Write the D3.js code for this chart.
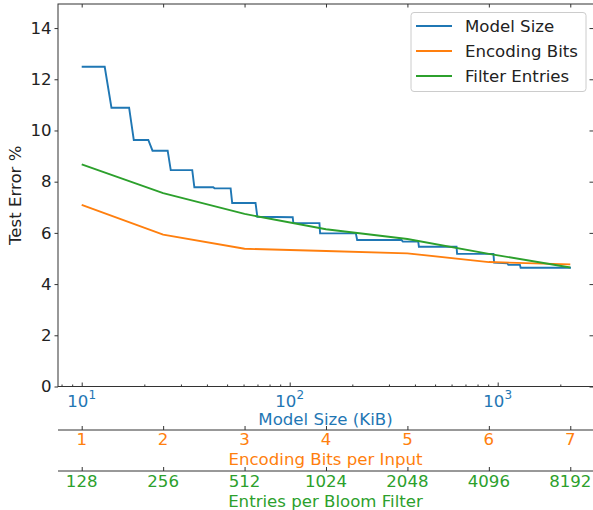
<!DOCTYPE html>
<html>
<head>
<meta charset="utf-8">
<script src="https://cdn.jsdelivr.net/npm/d3@7"></script>
<style>
  body { margin: 0; background: #fff; }
  svg { display: block; font-family: "DejaVu Sans", sans-serif; }
</style>
</head>
<body>
<svg id="chart" width="593" height="510"></svg>
<script>
// ---- data ----
const modelSize = [10, 12.9, 13.9, 16.9, 17.8, 20.9, 21.9, 25.9, 26.8, 34.0, 34.8, 42.9, 43.5, 52.0, 52.9, 68.5, 69.9, 103.4, 104.1, 139, 140, 208, 211, 345, 350, 415, 418, 634, 638, 954, 961, 1113, 1125, 1279, 1289, 2250];
const modelErr  = [12.49, 12.49, 10.89, 10.89, 9.63, 9.63, 9.21, 9.21, 8.45, 8.45, 7.78, 7.78, 7.74, 7.74, 7.17, 7.17, 6.63, 6.61, 6.38, 6.38, 5.98, 5.98, 5.72, 5.72, 5.66, 5.66, 5.46, 5.46, 5.18, 5.18, 4.84, 4.81, 4.75, 4.75, 4.64, 4.64];
const bits       = [1, 2, 3, 4, 5, 6, 7];
const bitsErr    = [7.09, 5.93, 5.38, 5.29, 5.20, 4.86, 4.77];
const entries    = [128, 256, 512, 1024, 2048, 4096, 8192];
const entriesErr = [8.68, 7.55, 6.74, 6.14, 5.76, 5.18, 4.65];
const yTicks = [0, 2, 4, 6, 8, 10, 12, 14];
const legendLabels = ["Model Size", "Encoding Bits", "Filter Entries"];
const colors = ["#1f77b4", "#ff7f0e", "#2ca02c"];

// ---- layout ----
const L = 58, R = 593, T = 4, B = 386.5;
const svg = d3.select("#chart");
const FS = 16.6;

const xModel = d3.scaleLog().domain([7.692, 2872]).range([L, R]);
const xBits = d3.scaleLinear().domain([0.709, 7.279]).range([L, R]);
const xEnt = d3.scaleLog().base(2).domain([104.6, 9940]).range([L, R]);
const y = d3.scaleLinear().domain([0, 14.94]).range([B, T]);

const g = svg.append("g");

// lines
const lineModel = d3.line().x((d, i) => xModel(modelSize[i])).y(d => y(d));
const lineBits = d3.line().x((d, i) => xBits(bits[i])).y(d => y(d));
const lineEnt = d3.line().x((d, i) => xEnt(entries[i])).y(d => y(d));

g.append("path").attr("d", lineModel(modelErr)).attr("fill", "none").attr("stroke", colors[0]).attr("stroke-width", 1.9);
g.append("path").attr("d", lineBits(bitsErr)).attr("fill", "none").attr("stroke", colors[1]).attr("stroke-width", 1.9);
g.append("path").attr("d", lineEnt(entriesErr)).attr("fill", "none").attr("stroke", colors[2]).attr("stroke-width", 1.9);

const spine = "#333";
// left axis
const yAxis = g.append("g").attr("transform", `translate(${L},0)`)
  .call(d3.axisLeft(y).tickValues(yTicks).tickSize(3.5).tickPadding(3).tickFormat(d3.format("d")));
yAxis.select(".domain").remove();
yAxis.selectAll("text").attr("font-size", FS).attr("fill", "#222").attr("font-family", "DejaVu Sans");
yAxis.selectAll("line").attr("stroke", spine);
// right ticks inward
const yR = g.append("g").attr("transform", `translate(${R},0)`)
  .call(d3.axisLeft(y).tickValues(yTicks).tickSize(3.5).tickFormat(""));
yR.select(".domain").remove();
yR.selectAll("line").attr("stroke", spine);

// top ticks inward at bits positions
const topAx = g.append("g").attr("transform", `translate(0,${T})`)
  .call(d3.axisBottom(xBits).tickValues(bits).tickSize(3.5).tickFormat(""));
topAx.select(".domain").remove();
topAx.selectAll("line").attr("stroke", spine);

// bottom axis (model size) ticks inward
const major = [10, 100, 1000];
const minor = [];
[1, 10, 100, 1000].forEach(dec => { for (let k = 2; k <= 9; k++) { const v = dec * k; if (v > 7.692 && v < 2872) minor.push(v); } });
const botMinor = g.append("g").attr("transform", `translate(0,${B})`)
  .call(d3.axisTop(xModel).tickValues(minor).tickSize(2).tickFormat(""));
botMinor.select(".domain").remove();
botMinor.selectAll("line").attr("stroke", spine);
const botMajor = g.append("g").attr("transform", `translate(0,${B})`)
  .call(d3.axisTop(xModel).tickValues(major).tickSize(4).tickFormat(""));
botMajor.select(".domain").remove();
botMajor.selectAll("line").attr("stroke", spine);
// major labels
const exps = major.map(v => Math.round(Math.log10(v)));
const lbl = g.append("g");
major.forEach((v, i) => {
  const t = lbl.append("text").attr("x", xModel(v)).attr("y", 406.8)
    .attr("text-anchor", "middle").attr("font-size", FS).attr("fill", colors[0]);
  t.append("tspan").text("10");
  t.append("tspan").attr("font-size", 12).attr("dy", -7.5).text(exps[i]);
});
g.append("text").attr("x", (L + R) / 2).attr("y", 425.2).attr("text-anchor", "middle")
  .attr("font-size", FS).attr("fill", colors[0]).text("Model Size (KiB)");

// spines
g.append("rect").attr("x", L).attr("y", T).attr("width", R - L + 5).attr("height", B - T)
  .attr("fill", "none").attr("stroke", spine).attr("stroke-width", 1);

// secondary axis: bits
const bitsAx = g.append("g").attr("transform", `translate(0,430)`)
  .call(d3.axisTop(xBits).tickValues(bits).tickSize(4).tickFormat(""));
bitsAx.select(".domain").remove();
bitsAx.selectAll("line").attr("stroke", spine);
g.append("line").attr("x1", L).attr("x2", R).attr("y1", 430).attr("y2", 430).attr("stroke", spine);
bits.forEach(b => {
  g.append("text").attr("x", xBits(b)).attr("y", 445.2).attr("text-anchor", "middle")
    .attr("font-size", FS).attr("fill", colors[1]).text(b);
});
g.append("text").attr("x", (L + R) / 2).attr("y", 465).attr("text-anchor", "middle")
  .attr("font-size", FS).attr("fill", colors[1]).text("Encoding Bits per Input");

// secondary axis: entries
const entAx = g.append("g").attr("transform", `translate(0,471)`)
  .call(d3.axisTop(xEnt).tickValues(entries).tickSize(4).tickFormat(""));
entAx.select(".domain").remove();
entAx.selectAll("line").attr("stroke", spine);
g.append("line").attr("x1", L).attr("x2", R).attr("y1", 471).attr("y2", 471).attr("stroke", spine);
entries.forEach(e => {
  g.append("text").attr("x", xEnt(e)).attr("y", 487.2).attr("text-anchor", "middle")
    .attr("font-size", FS).attr("fill", colors[2]).text(e);
});
g.append("text").attr("x", (L + R) / 2).attr("y", 506.6).attr("text-anchor", "middle")
  .attr("font-size", FS).attr("fill", colors[2]).text("Entries per Bloom Filter");

// y label
g.append("text").attr("transform", `translate(21,${(T + B) / 2}) rotate(-90)`)
  .attr("text-anchor", "middle").attr("font-size", FS).attr("fill", "#222").text("Test Error %");

// legend
const leg = g.append("g");
leg.append("rect").attr("x", 411).attr("y", 12.5).attr("width", 175).attr("height", 79)
  .attr("rx", 3).attr("fill", "#fff").attr("fill-opacity", 0.85).attr("stroke", "#ccc");
legendLabels.forEach((name, i) => {
  const yy = 26 + i * 25;
  leg.append("line").attr("x1", 416).attr("x2", 452).attr("y1", yy).attr("y2", yy)
    .attr("stroke", colors[i]).attr("stroke-width", 1.9);
  leg.append("text").attr("x", 465).attr("y", yy).attr("dy", "0.36em")
    .attr("font-size", FS).attr("fill", "#222").text(name);
});
</script>
</body>
</html>
